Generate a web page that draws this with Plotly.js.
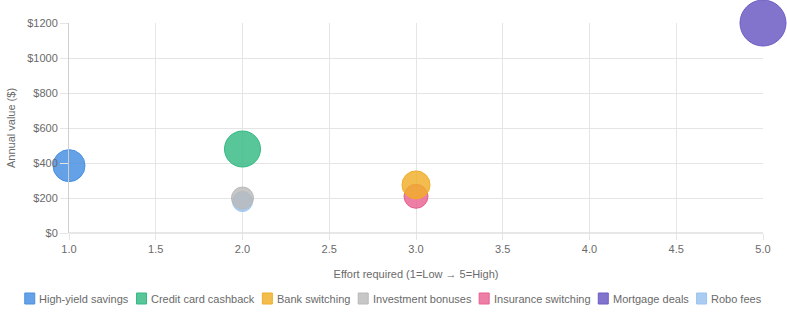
<!DOCTYPE html>
<html>
<head>
<meta charset="utf-8">
<script src="https://cdn.plot.ly/plotly-3.0.1.min.js"></script>
<style>
html,body{margin:0;padding:0;background:#fff;}
#chart{width:787px;height:315px;}
</style>
</head>
<body>
<div id="chart"></div>
<script>
// Data
const seriesNames = ["High-yield savings","Credit card cashback","Bank switching","Investment bonuses","Insurance switching","Mortgage deals","Robo fees"];
const effortValues = [1, 2, 3, 2, 3, 5, 2];
const annualValues = [385, 480, 275, 200, 210, 1200, 180];
const bubbleSizes = [32, 36, 28, 22, 24, 46, 20];
const xTickVals = [1.0,1.5,2.0,2.5,3.0,3.5,4.0,4.5,5.0];
const xTickText = ["1.0","1.5","2.0","2.5","3.0","3.5","4.0","4.5","5.0"];
const yTickVals = [0,200,400,600,800,1000,1200];
const yTickText = ["$0","$200","$400","$600","$800","$1000","$1200"];

const fills = ["rgba(74,144,226,0.85)","rgba(52,185,130,0.82)","rgba(240,173,40,0.82)","rgba(185,185,185,0.8)","rgba(232,95,145,0.8)","rgba(108,92,196,0.85)","rgba(155,195,238,0.85)"];
const lines = ["rgb(74,144,226)","rgb(52,185,130)","rgb(240,173,40)","rgb(185,185,185)","rgb(232,95,145)","rgb(108,92,196)","rgb(155,195,238)"];

const W = 787, H = 315, L = 69, R = 24, T = 23, B = 82;
const pw = W - L - R, ph = H - T - B;
const FONT = '"Liberation Sans", Arial, Helvetica, sans-serif';
const TXT = '#6a6a6a';

// traces drawn in reverse so first series is on top (like reference)
const traces = [];
for (let i = seriesNames.length - 1; i >= 0; i--) {
  traces.push({
    type: 'scatter', mode: 'markers', name: seriesNames[i],
    x: [effortValues[i]], y: [annualValues[i]],
    marker: {size: bubbleSizes[i], color: fills[i], line: {color: lines[i], width: 1}},
    cliponaxis: false, showlegend: false, hoverinfo: 'skip'
  });
}

// custom legend (boxes + text) laid out like the reference
const cv = document.createElement('canvas').getContext('2d');
cv.font = '11px ' + FONT;
const boxW = 10, boxH = 11, textGap = 5.5, itemGap = 7;
const widths = seriesNames.map(n => boxW + textGap + cv.measureText(n).width);
const total = widths.reduce((a,b)=>a+b,0) + itemGap*(seriesNames.length-1);
let px = W/2 - total/2;
const legY = 298.5;
const shapes = [], annotations = [];
const toX = p => (p - L)/pw, toY = p => (H - B - p)/ph;
seriesNames.forEach((n, i) => {
  shapes.push({type:'rect', xref:'paper', yref:'paper', x0: toX(px), x1: toX(px+boxW), y0: toY(legY+boxH/2), y1: toY(legY-boxH/2), fillcolor: fills[i], line:{color: lines[i], width:1}, layer:'above'});
  annotations.push({xref:'paper', yref:'paper', x: toX(px+boxW+textGap), y: toY(legY), xanchor:'left', yanchor:'middle', text: n, showarrow:false, font:{family:FONT, size:11, color:TXT}, xshift:-2, borderpad:0});
  px += widths[i] + itemGap;
});

const layout = {
  width: W, height: H,
  margin: {l: L, r: R, t: T, b: B, pad: 0},
  paper_bgcolor: '#fff', plot_bgcolor: '#fff',
  showlegend: false,
  hovermode: false,
  font: {family: FONT, size: 11, color: TXT},
  xaxis: {
    range: [1, 5], tickvals: xTickVals, ticktext: xTickText,
    showgrid: true, gridcolor: '#e5e5e5', gridwidth: 1,
    zeroline: false, showline: false,
    ticks: 'outside', ticklen: 6, tickcolor: '#e5e5e5',
    tickfont: {family: FONT, size: 11, color: TXT},
    title: {text: 'Effort required (1=Low → 5=High)', font: {family: FONT, size: 11, color: TXT}, standoff: 16},
    automargin: false, fixedrange: true
  },
  yaxis: {
    range: [0, 1200], tickvals: yTickVals, ticktext: yTickText,
    showgrid: true, gridcolor: '#e5e5e5', gridwidth: 1,
    zeroline: false, showline: true, linecolor: '#cfcfcf', linewidth: 1,
    ticks: 'outside', ticklen: 8, tickcolor: '#e5e5e5',
    tickfont: {family: FONT, size: 11, color: TXT},
    title: {text: 'Annual value ($)', font: {family: FONT, size: 11, color: TXT}, standoff: 9},
    automargin: false, fixedrange: true
  },
  shapes: shapes.concat([{type:'line', xref:'paper', yref:'paper', x0:0, x1:1, y0:0, y1:0, line:{color:'#cfcfcf', width:1}}]),
  annotations: annotations
};

Plotly.newPlot('chart', traces, layout, {displayModeBar: false, staticPlot: true});
</script>
</body>
</html>
